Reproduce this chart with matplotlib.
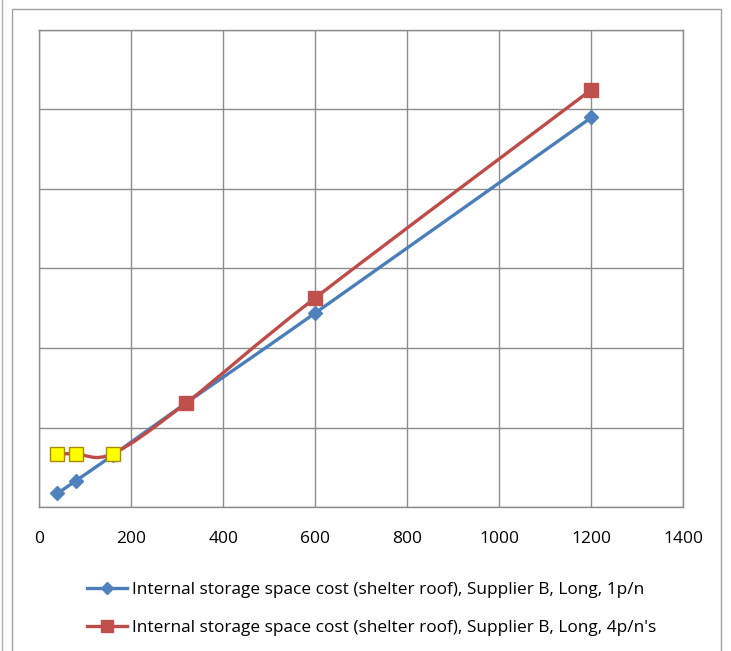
import numpy as np
import matplotlib.pyplot as plt
from matplotlib.path import Path
from matplotlib.patches import PathPatch, Rectangle
from matplotlib.lines import Line2D

plt.rcParams['font.family'] = ['Open Sans', 'DejaVu Sans']

# roof area served vs internal storage space cost
x_vals = [40, 80, 160, 320, 600, 1200]
cost_1p = [17, 33, 65, 131, 244, 490]
cost_4p = [67, 67, 67, 131, 263, 525]
highlight_idx = [0, 1, 2]

label_1p = 'Internal storage space cost (shelter roof), Supplier B, Long, 1p/n'
label_4p = "Internal storage space cost (shelter roof), Supplier B, Long, 4p/n's"
x_ticks = [0, 200, 400, 600, 800, 1000, 1200, 1400]

BLUE = '#4A7EBB'
BLUE_MK = '#4F81BD'
RED = '#BE4B48'
RED_MK = '#C0504D'
GRID = '#8C8C8C'


def smooth_path(xs, ys):
    # spreadsheet-style smoothed line: cubic bezier through each point
    pts = np.column_stack([xs, ys]).astype(float)
    ext = np.vstack([pts[0], pts, pts[-1]])
    verts = [pts[0]]
    codes = [Path.MOVETO]
    for i in range(len(pts) - 1):
        p_prev, p0, p1, p_next = ext[i], ext[i + 1], ext[i + 2], ext[i + 3]
        c1 = p0 + (p1 - p_prev) / 6.0
        c2 = p1 - (p_next - p0) / 6.0
        verts += [c1, c2, p1]
        codes += [Path.CURVE4] * 3
    return Path(verts, codes)


fig = plt.figure(figsize=(7.31, 6.51), dpi=100)
ax = fig.add_axes([39 / 731, 1 - 507 / 651, (683.5 - 39) / 731, (507 - 30) / 651])

# chart area border
fig.patches.append(Rectangle((12 / 731, -0.05), (721 - 12) / 731, 1.05 - 9 / 651,
                             transform=fig.transFigure, fill=False,
                             edgecolor='#A0A0A0', linewidth=1.0))
fig.add_artist(Line2D([1.5 / 731, 1.5 / 731], [0, 1], transform=fig.transFigure,
                      color='#B0B0B0', linewidth=1.0))

ax.add_patch(PathPatch(smooth_path(x_vals, cost_1p), facecolor='none',
                       edgecolor=BLUE, linewidth=2.4, zorder=3))
ax.add_patch(PathPatch(smooth_path(x_vals, cost_4p), facecolor='none',
                       edgecolor=RED, linewidth=2.4, zorder=3))

ax.plot(x_vals, cost_1p, linestyle='none', marker='D', markersize=7,
        color=BLUE_MK, zorder=4)
red_idx = [i for i in range(len(x_vals)) if i not in highlight_idx]
ax.plot([x_vals[i] for i in red_idx], [cost_4p[i] for i in red_idx],
        linestyle='none', marker='s', markersize=10, color=RED_MK, zorder=4)
ax.plot([x_vals[i] for i in highlight_idx], [cost_4p[i] for i in highlight_idx],
        linestyle='none', marker='s', markersize=10, markerfacecolor='#FFFF00',
        markeredgecolor='#A88A00', markeredgewidth=1.0, zorder=5)

ax.set_xlim(0, 1400)
ax.set_ylim(0, 600)
ax.set_xticks(x_ticks)
ax.set_xticklabels([str(t) for t in x_ticks], fontsize=12.5)
ax.set_yticks(np.arange(0, 601, 100))
ax.set_yticklabels([])
ax.tick_params(length=0, pad=17)
ax.grid(True, color=GRID, linewidth=1.0)
ax.set_axisbelow(True)
for sp in ax.spines.values():
    sp.set_color(GRID)
    sp.set_linewidth(1.0)

handles = [
    Line2D([], [], color=BLUE, linewidth=2.4, marker='D', markersize=6,
           markerfacecolor=BLUE_MK, markeredgecolor=BLUE_MK),
    Line2D([], [], color=RED, linewidth=2.4, marker='s', markersize=9,
           markerfacecolor=RED_MK, markeredgecolor=RED_MK),
]
fig.legend(handles, [label_1p, label_4p], loc='upper left',
           bbox_to_anchor=(87 / 731, 1 - 582 / 651), frameon=False, fontsize=12.4,
           handlelength=2.35, handletextpad=0.25, labelspacing=1.25,
           borderpad=0, borderaxespad=0, markerscale=1.0)

fig.savefig('out.png', dpi=100)
